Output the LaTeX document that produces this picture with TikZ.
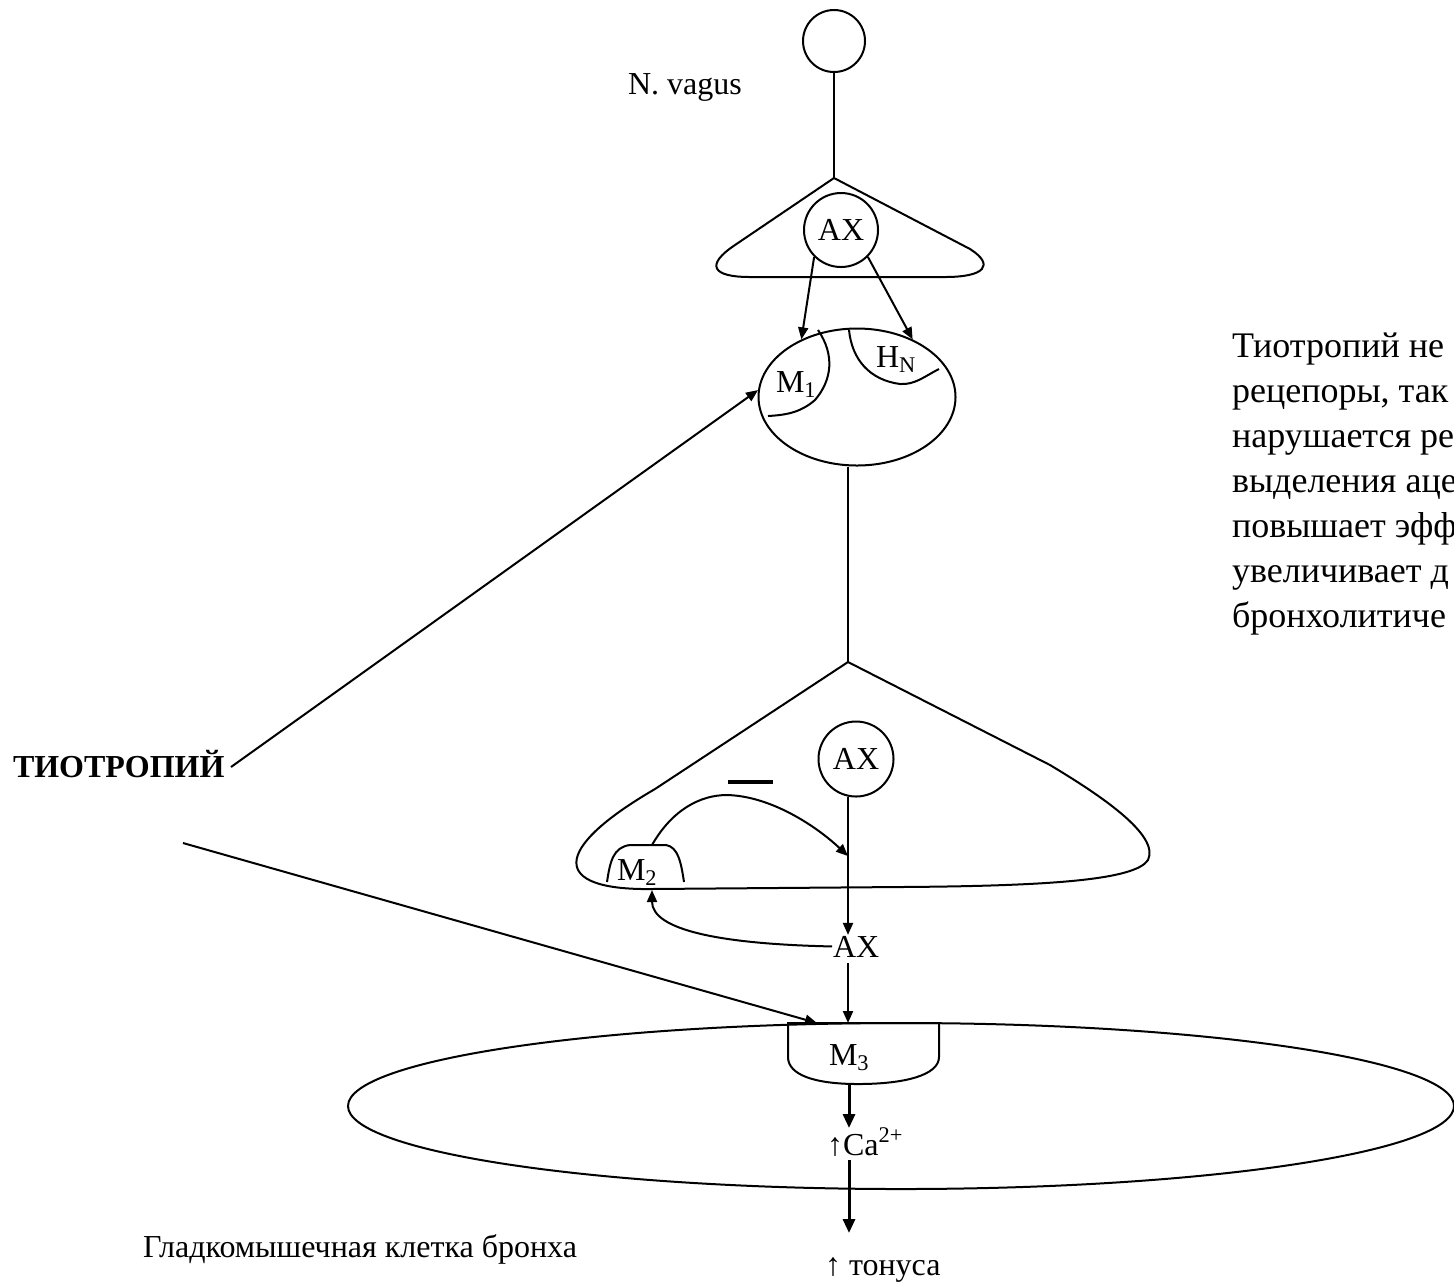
\documentclass[tikz,border=0pt]{standalone}
\usepackage{fontspec}
\setmainfont{Liberation Serif}
\usetikzlibrary{arrows.meta,shapes.geometric}
\begin{document}
\begin{tikzpicture}[x=0.5pt,y=-0.5pt,
  line width=1pt,
  lbl/.style={inner sep=0pt, font=\fontsize{16}{18}\selectfont},
  lblb/.style={inner sep=0pt, font=\bfseries\fontsize{16}{18}\selectfont},
  rt/.style={inner sep=0pt, anchor=base west, font=\fontsize{18}{22.5}\selectfont},
  circ/.style={draw, circle, inner sep=0pt, minimum size=#1},
  arr/.style={-{Triangle[length=6pt,width=5pt]}},
  tarr/.style={line width=1.5pt,-{Triangle[length=7pt,width=6pt]}},
]
\useasboundingbox (0,0) rectangle (1454,1282);
\clip (0,0) rectangle (1454,1282);

% neuron soma and vagus
\node[circ=31pt] (soma) at (834,41) {};
\node[lbl, anchor=base west] (vagus) at (627,94) {N. vagus};
\coordinate (apex1) at (834,178);
\draw (soma) -- (apex1);

% upper (preganglionic) terminal
\draw (apex1) -- (735,245) .. controls (705,265) and (712,277) .. (750,277)
  -- (945,277) .. controls (985,277) and (995,265) .. (970,249) -- cycle;
\node[circ=37pt, lbl] (ax1) at (841,230) {AX};

% ganglion cell
\node[draw, ellipse, minimum width=98.5pt, minimum height=68.5pt, inner sep=0pt] (gang) at (857,397) {};
\draw[arr] (ax1.-135) -- (gang.134);
\draw[arr] (ax1.-45) -- (gang.46);
\draw (818,330) .. controls (835,355) and (832,380) .. (815,400)
  .. controls (800,413) and (785,415) .. (768,416);
\draw (849,330) .. controls (852,360) and (870,380) .. (900,384)
  .. controls (915,385) and (925,376) .. (939,369);
\node[lbl, anchor=base west] (m1) at (775,392) {M\textsubscript{1}};
\node[lbl, anchor=base west] (hn) at (875,367) {H\textsubscript{N}};

% postganglionic fibre and lower terminal
\coordinate (apex2) at (848,662);
\draw (gang.south -| apex2) -- (apex2);
\draw (apex2) -- (1050,765) .. controls (1100,795) and (1160,835) .. (1148,860)
  .. controls (1135,880) and (1050,886) .. (900,887) -- (650,889)
  .. controls (552,890) and (550,850) .. (655,789) -- cycle;
\node[circ=37.5pt, lbl] (ax2) at (856,759) {AX};
\node[lbl, anchor=base west] (axt) at (832,957) {AX};
\draw[arr] (ax2.-102) -- (ax2.-102 |- axt.north);

% M2 autoreceptor
\draw (607,882) .. controls (610,862) and (613,847) .. (630,845) -- (666,845)
  .. controls (678,847) and (681,862) .. (684,882);
\node[lbl, anchor=base west] (m2) at (616,880) {M\textsubscript{2}};
\coordinate (m2t) at (652,845);
\coordinate (m2b) at (652,890);
\coordinate (inh) at (848,856);
\draw[arr] (m2t) .. controls (672,810) and (700,795) .. (727,795)
  .. controls (770,796) and (815,825) .. (inh);
\draw[line width=2pt] (728,782) -- (773,782);
\draw[arr] (axt.west) .. controls (720,944) and (652,930) .. (m2b);

% smooth muscle cell
\node[draw, ellipse, minimum width=553pt, minimum height=83pt, inner sep=0pt] (cell) at (901,1106) {};
\draw (788,1023) -- (788,1057) .. controls (788,1075) and (815,1084) .. (858,1084)
  .. controls (905,1084) and (939,1075) .. (939,1057) -- (939,1023) -- cycle;
\node[lbl, anchor=base west] (m3) at (828,1065) {M\textsubscript{3}};
\coordinate (m3t) at (848,1023);
\draw[arr, shorten <=2.5pt] (axt.south -| m3t) -- (m3t);
\coordinate (m3b) at (849,1084);
\coordinate (cat) at (849,1128);
\draw[tarr] (m3b) -- (cat);
\node[lbl, anchor=base west] (ca) at (826,1155) {↑Ca\textsuperscript{2+}};
\coordinate (cab) at (849,1160);
\coordinate (tont) at (849,1233);
\draw[tarr] (cab) -- (tont);
\node[lbl, anchor=base west] (tonus) at (824,1275) {↑ тонуса};
\node[lbl, anchor=base west] (gl) at (142,1257) {Гладкомышечная клетка бронха};

% tiotropium
\node[lblb, anchor=base west] (tio) at (12,777) {ТИОТРОПИЙ};
\coordinate (t1) at (231,767);
\draw[arr] (t1) -- (gang.176);
\coordinate (t2) at (183,843);
\coordinate (m3a) at (817,1023);
\draw[arr] (t2) -- (m3a);

% right text (cut off by the page edge, as in the original)
\foreach \t [count=\i from 0] in {{Тиотропий не},{рецепоры, так},{нарушается ре},{выделения аце},{повышает эфф},{увеличивает д},{бронхолитиче}}
  \node[rt] (rt\i) at (1231,{357+45*\i}) {\t};
\end{tikzpicture}
\end{document}
